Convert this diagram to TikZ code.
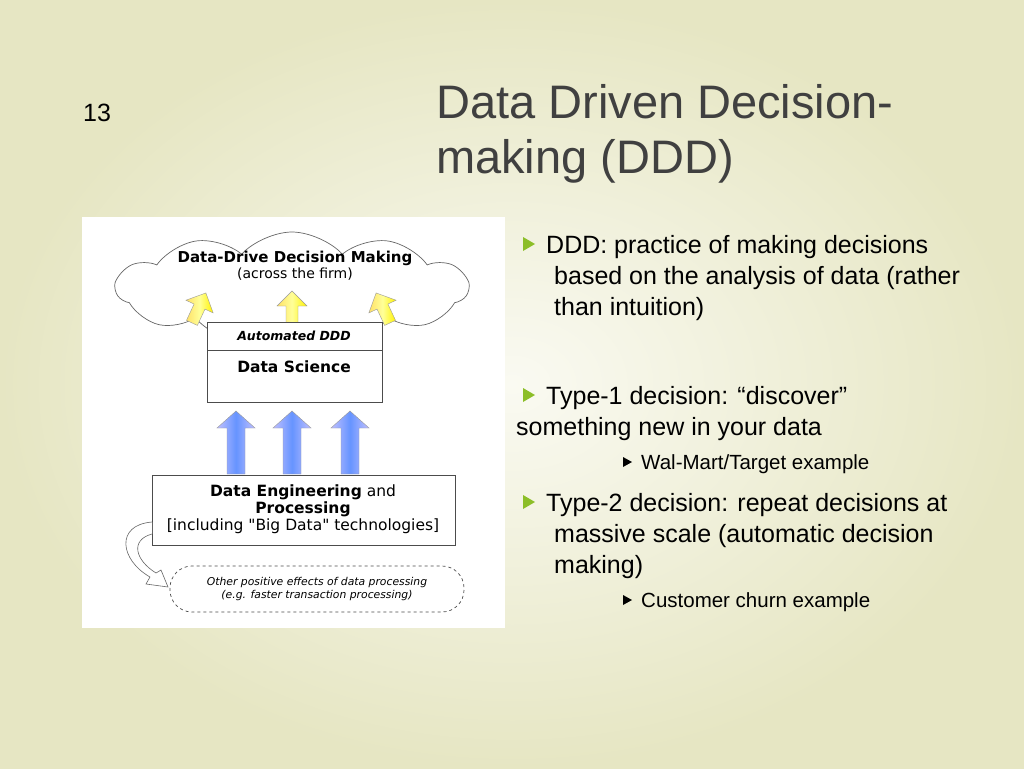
\documentclass[tikz,border=0pt]{standalone}
\usepackage{fontspec}
\setmainfont{Liberation Sans}
\newfontfamily\dia{DejaVu Sans}
\usetikzlibrary{shapes.symbols,arrows.meta}
\definecolor{bgout}{RGB}{230,230,195}
\definecolor{bgin}{RGB}{250,250,242}
\definecolor{bulg}{RGB}{140,190,40}
\tikzset{
  box/.style={draw=black!70,fill=white,line width=0.8pt},
  yarrow/.style={draw=black!40,line width=0.4pt,left color=yellow!60!orange!60,right color=yellow!90!orange,middle color=yellow!40},
  barrow/.style={draw=black!40,line width=0.4pt,left color=blue!25,right color=blue!25,middle color=blue!70!cyan!60},
  txt/.style={inner sep=0pt,anchor=base west,align=left},
  big/.style={font=\fontsize{25}{30}\selectfont},
  small/.style={font=\fontsize{20.5}{24}\selectfont},
}
\begin{document}
\begin{tikzpicture}[x=1pt,y=-1pt]
\useasboundingbox (0,0) rectangle (1024,768);
\shade[inner color=bgin,outer color=bgout] (0,0) rectangle (1024,768);
\node[txt,font=\fontsize{25}{30}\selectfont] (num) at (83,121) {13};
\node[txt,font=\fontsize{47}{54}\selectfont,text=black!75] (title) at (436,118) {Data Driven Decision-};
\node[txt,font=\fontsize{47}{54}\selectfont,text=black!75] (title2) at (436,173) {making (DDD)};
% image panel
\fill[white] (82,217) rectangle (505,628);
\node[cloud,draw=black!60,fill=white,cloud puffs=11,cloud puff arc=95,aspect=3,minimum width=352,minimum height=112,line width=0.7pt] (cloud) at (292,288) {};
\node[font=\dia\bfseries\fontsize{15}{17}\selectfont,inner sep=0pt] (ct1) at (295,258) {Data-Drive Decision Making};
\node[font=\dia\fontsize{14}{17}\selectfont,inner sep=0pt] (ct2) at (295,274) {(across the firm)};
% yellow arrows
\foreach \x/\r in {197/-25,292/0,385/25}{
 \begin{scope}[shift={(\x,312)},rotate=\r]
  \path[yarrow] (-6,12) -- (-6,-6) -- (-15,-6) -- (0,-21) -- (15,-6) -- (6,-6) -- (6,12) -- cycle;
 \end{scope}}
\draw[box] (207,322) rectangle (382,402);
\draw[black!70,line width=0.6pt] (207,350) -- (382,350);
\node[font=\dia\bfseries\itshape\fontsize{12.5}{15}\selectfont,inner sep=0pt] (auto) at (294,336) {Automated DDD};
\node[font=\dia\bfseries\fontsize{15.5}{18}\selectfont,inner sep=0pt] (ds) at (294,367) {Data Science};
% blue arrows
\foreach \x in {236,292,350}{
  \path[barrow] (\x-9,474) -- (\x-9,428) -- (\x-19,428) -- (\x,411) -- (\x+19,428) -- (\x+9,428) -- (\x+9,474) -- cycle;}
\draw[box] (152,475) rectangle (455,545);
\node[font=\dia\fontsize{15.5}{17}\selectfont,inner sep=0pt,align=center] (de) at (303,509) {\textbf{Data Engineering} and\\ \textbf{Processing}\\ {[}including \char34 Big Data\char34{} technologies{]}};
% dashed ellipse
\draw[dashed,black!70,fill=white,line width=0.7pt,rounded corners=22] (170,566) rectangle (464,612);
\node[font=\dia\itshape\fontsize{10.8}{13}\selectfont,inner sep=0pt,align=center] (oe) at (317,589) {Other positive effects of data processing\\(e.g. faster transaction processing)};
% curved hollow arrow
\coordinate (c1) at (152,522);
\coordinate (c2) at (152,534);
\coordinate (tip) at (168,587);
\draw[black!60,fill=white,line width=0.6pt] (c1) .. controls (115,525) and (120,560) .. (150,577) -- (146,584) -- (tip) -- (161,570) -- (156,573) .. controls (135,560) and (130,540) .. (c2);
% bullets
\tikzset{bul/.style={fill=bulg}, sbul/.style={fill=black}}
\fill[bul] (523,237) -- (523,251) -- (535,244) -- cycle;
\node[txt,big] (b1) at (546,253) {DDD: practice of making decisions};
\node[txt,big] (b1b) at (554,284) {based on the analysis of data (rather};
\node[txt,big] (b1c) at (554,315) {than intuition)};
\fill[bul] (523,388) -- (523,402) -- (535,395) -- cycle;
\node[txt,big] (b2) at (546,404) {Type-1 decision: “discover”};
\node[txt,big] (b2b) at (516,435) {something new in your data};
\fill[sbul] (623,457) -- (623,467) -- (632,462) -- cycle;
\node[txt,small] (s1) at (641,469) {Wal-Mart/Target example};
\fill[bul] (523,495) -- (523,509) -- (535,502) -- cycle;
\node[txt,big] (b3) at (546,511) {Type-2 decision: repeat decisions at};
\node[txt,big] (b3b) at (554,542) {massive scale (automatic decision};
\node[txt,big] (b3c) at (554,573) {making)};
\fill[sbul] (623,595) -- (623,605) -- (632,600) -- cycle;
\node[txt,small] (s2) at (641,607) {Customer churn example};
\end{tikzpicture}
\end{document}
